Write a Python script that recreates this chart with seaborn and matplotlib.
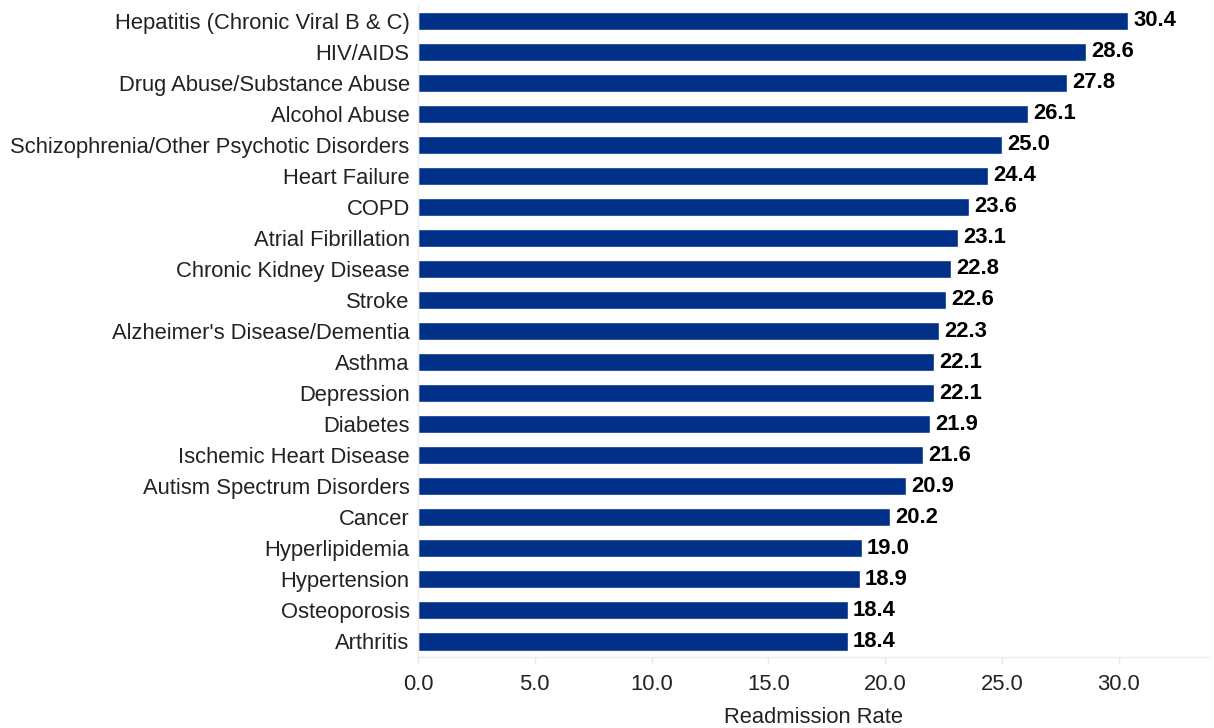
import matplotlib
matplotlib.use("Agg")
import matplotlib.pyplot as plt
import seaborn as sns
import pandas as pd

conditions = [
    "Hepatitis (Chronic Viral B & C)", "HIV/AIDS", "Drug Abuse/Substance Abuse",
    "Alcohol Abuse", "Schizophrenia/Other Psychotic Disorders", "Heart Failure",
    "COPD", "Atrial Fibrillation", "Chronic Kidney Disease", "Stroke",
    "Alzheimer's Disease/Dementia", "Asthma", "Depression", "Diabetes",
    "Ischemic Heart Disease", "Autism Spectrum Disorders", "Cancer",
    "Hyperlipidemia", "Hypertension", "Osteoporosis", "Arthritis",
]
rates = [30.4, 28.6, 27.8, 26.1, 25.0, 24.4, 23.6, 23.1, 22.8, 22.6,
         22.3, 22.1, 22.1, 21.9, 21.6, 20.9, 20.2, 19.0, 18.9, 18.4, 18.4]
x_ticks = [0, 5, 10, 15, 20, 25, 30]

df = pd.DataFrame({"Condition": conditions, "Rate": rates})

sns.set_theme(style="white")
plt.rcParams["font.family"] = ["Liberation Sans", "DejaVu Sans"]

fig = plt.figure(figsize=(12.14, 7.28), dpi=100)
ax = fig.add_axes([0.3443, 0.0975, 0.6524, 0.8956])

sns.barplot(data=df, x="Rate", y="Condition", color="#003087",
            saturation=1, width=0.58, ax=ax, orient="h")

for i, v in enumerate(rates):
    ax.text(v + 0.22, i, f"{v:.1f}", va="center", ha="left",
            fontsize=15.8, fontweight="bold", color="#000000")

ax.set_xlim(0, 33.9)
ax.set_ylim(len(conditions) - 0.5, -0.5)
ax.set_xticks(x_ticks)
ax.set_xticklabels([f"{t:.1f}" for t in x_ticks])
ax.set_xlabel("Readmission Rate", fontsize=15.8, color="#222222", labelpad=9)
ax.set_ylabel("")

ax.tick_params(axis="x", labelsize=15.8, colors="#222222", length=5,
               width=1, color="#e8e8e8", pad=7, bottom=True)
ax.tick_params(axis="y", labelsize=15.8, colors="#222222", length=0, pad=6)

for side in ["top", "right"]:
    ax.spines[side].set_visible(False)
for side in ["left", "bottom"]:
    ax.spines[side].set_color("#ececec")
    ax.spines[side].set_linewidth(1)

fig.savefig("out.png", dpi=100)
